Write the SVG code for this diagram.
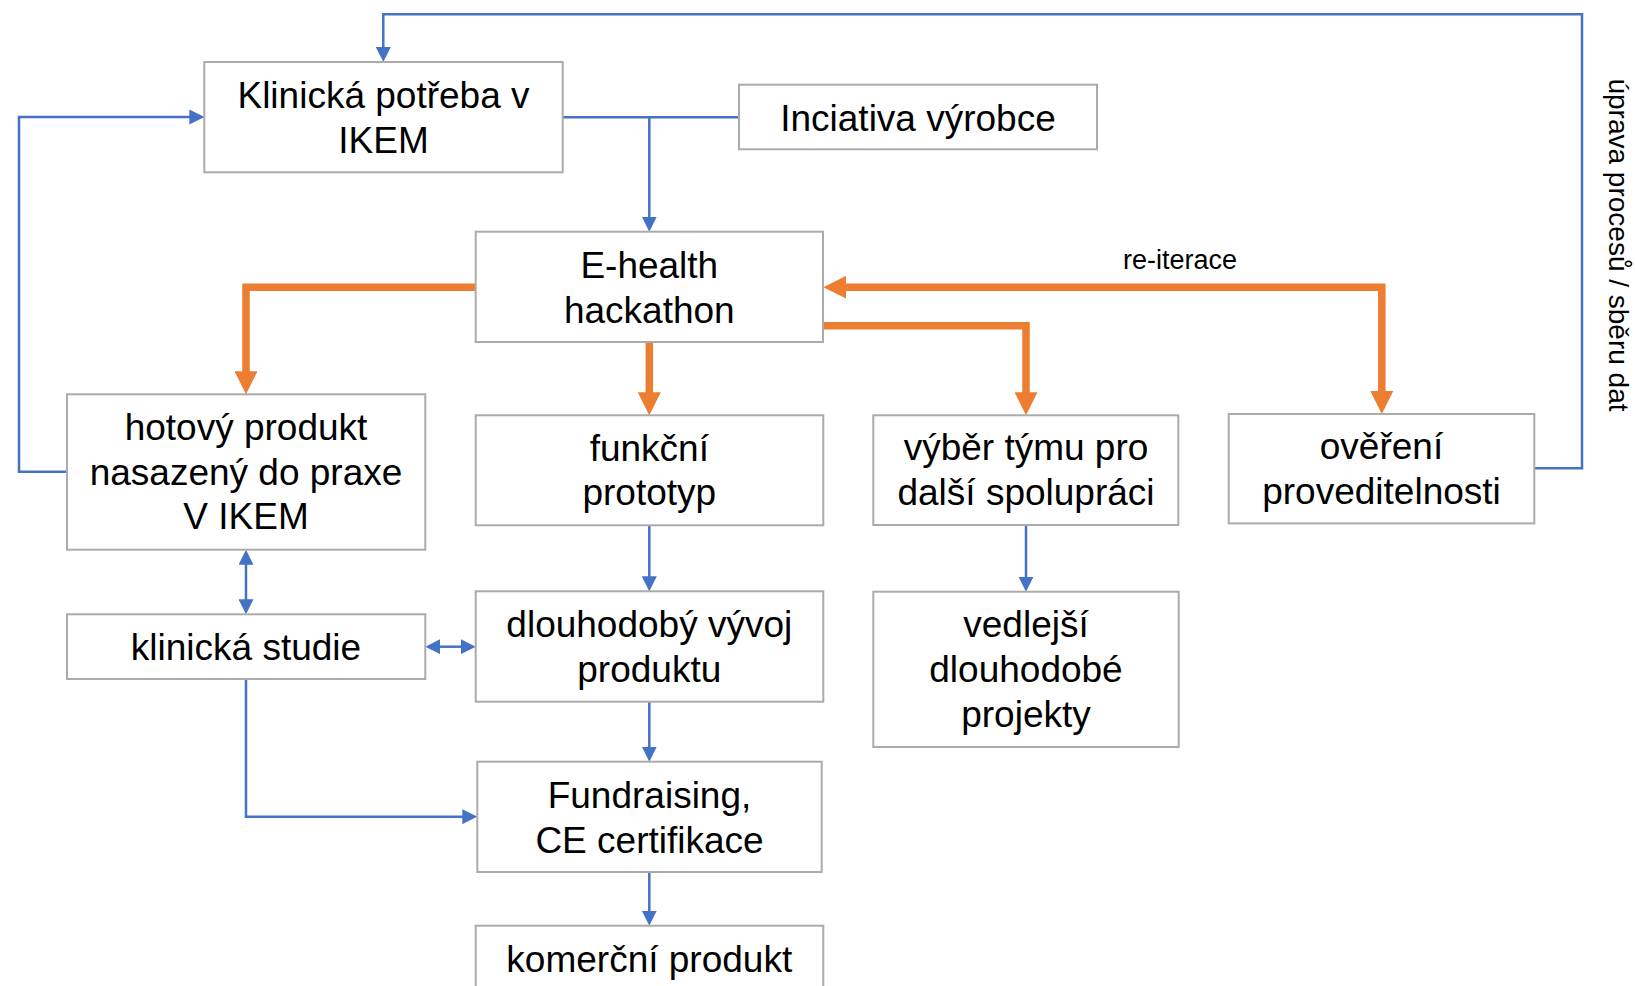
<svg xmlns="http://www.w3.org/2000/svg" width="1635" height="986" viewBox="0 0 1635 986">
<style>
.box{fill:#fff;stroke:#ABABAB;stroke-width:2}
.t{font-family:"Liberation Sans",Arial,sans-serif;font-size:37px;fill:#000;text-anchor:middle}
.lbl{font-family:"Liberation Sans",Arial,sans-serif;fill:#000}
.b{fill:none;stroke:#4472C4;stroke-width:2.5}
.o{fill:none;stroke:#ED7D31;stroke-width:7.5;stroke-linejoin:miter}
</style>
<defs>
<marker id="ab" viewBox="0 0 15 15" refX="2" refY="7.5" markerWidth="15" markerHeight="15" markerUnits="userSpaceOnUse" orient="auto-start-reverse">
<path d="M0,0 L15,7.5 L0,15 z" fill="#4472C4"/>
</marker>
<marker id="ao" viewBox="0 0 23 23" refX="2" refY="11.5" markerWidth="23" markerHeight="23" markerUnits="userSpaceOnUse" orient="auto-start-reverse">
<path d="M0,0 L23,11.5 L0,23 z" fill="#ED7D31"/>
</marker>
</defs>
<rect width="1635" height="986" fill="#fff"/>

<g id="connectors">
<path class="b" d="M1534.3,468.3 H1582 V14.3 H383.3 V49" marker-end="url(#ab)"/>
<path class="b" d="M67,471.7 H19 V117 H191.3" marker-end="url(#ab)"/>
<path class="b" d="M562.7,117.3 H739"/>
<path class="b" d="M649.3,117.3 V218.7" marker-end="url(#ab)"/>
<path class="b" d="M649.3,525.3 V578.3" marker-end="url(#ab)"/>
<path class="b" d="M649.3,701.7 V748.7" marker-end="url(#ab)"/>
<path class="b" d="M649.3,872 V912.7" marker-end="url(#ab)"/>
<path class="b" d="M1026,525 V578.7" marker-end="url(#ab)"/>
<path class="b" d="M246,562.7 V601.3" marker-start="url(#ab)" marker-end="url(#ab)"/>
<path class="b" d="M438.3,646.7 H462.7" marker-start="url(#ab)" marker-end="url(#ab)"/>
<path class="b" d="M246,679 V816.7 H464.3" marker-end="url(#ab)"/>
<path class="o" d="M475.7,287.3 H246 V373.3" marker-end="url(#ao)"/>
<path class="o" d="M649.3,342 V394.3" marker-end="url(#ao)"/>
<path class="o" d="M823,325.7 H1026 V394.3" marker-end="url(#ao)"/>
<path class="o" d="M844.3,287.2 H1381.8 V393" marker-start="url(#ao)" marker-end="url(#ao)"/>
<text class="lbl" x="1180" y="268.5" font-size="27" text-anchor="middle">re-iterace</text>
<text class="lbl" font-size="28" text-anchor="middle" transform="translate(1609,245) rotate(90)">úprava procesů / sběru dat</text>
</g>

<g id="klinicka-potreba">
<rect class="box" x="204.3" y="62" width="358.4" height="110.3"/>
<text class="t" x="383.5" y="108.3">Klinická potřeba v</text>
<text class="t" x="383.5" y="153.3">IKEM</text>
</g>

<g id="iniciativa">
<rect class="box" x="739" y="84.7" width="358" height="64.6"/>
<text class="t" x="918" y="130.7">Inciativa výrobce</text>
</g>

<g id="hackathon">
<rect class="box" x="475.7" y="231.7" width="347.3" height="110.3"/>
<text class="t" x="649.3" y="278.3">E-health</text>
<text class="t" x="649.3" y="323.3">hackathon</text>
</g>

<g id="hotovy-produkt">
<rect class="box" x="67" y="394.3" width="358.3" height="155.4"/>
<text class="t" x="246" y="440">hotový produkt</text>
<text class="t" x="246" y="485">nasazený do praxe</text>
<text class="t" x="246" y="529.3">V IKEM</text>
</g>

<g id="funkcni-prototyp">
<rect class="box" x="475.7" y="415.3" width="347.6" height="110"/>
<text class="t" x="649.3" y="460.7">funkční</text>
<text class="t" x="649.3" y="505">prototyp</text>
</g>

<g id="vyber-tymu">
<rect class="box" x="873.3" y="415.3" width="305" height="109.7"/>
<text class="t" x="1026" y="460">výběr týmu pro</text>
<text class="t" x="1026" y="505">další spolupráci</text>
</g>

<g id="overeni">
<rect class="box" x="1228.7" y="414" width="305.6" height="109.4"/>
<text class="t" x="1381.5" y="459.3">ověření</text>
<text class="t" x="1381.5" y="504">proveditelnosti</text>
</g>

<g id="klinicka-studie">
<rect class="box" x="67" y="614.3" width="358.3" height="64.7"/>
<text class="t" x="246" y="660">klinická studie</text>
</g>

<g id="dlouhodoby-vyvoj">
<rect class="box" x="475.7" y="591.3" width="347.6" height="110.4"/>
<text class="t" x="649.3" y="636.7">dlouhodobý vývoj</text>
<text class="t" x="649.3" y="681.7">produktu</text>
</g>

<g id="vedlejsi-projekty">
<rect class="box" x="873.3" y="591.7" width="305.4" height="155.3"/>
<text class="t" x="1026" y="636.7">vedlejší</text>
<text class="t" x="1026" y="681.7">dlouhodobé</text>
<text class="t" x="1026" y="726.7">projekty</text>
</g>

<g id="fundraising">
<rect class="box" x="477.3" y="761.7" width="344.4" height="110.3"/>
<text class="t" x="649.5" y="807.7">Fundraising,</text>
<text class="t" x="649.5" y="852.7">CE certifikace</text>
</g>

<g id="komercni-produkt">
<rect class="box" x="475.7" y="925.7" width="347.6" height="80"/>
<text class="t" x="649.3" y="971.7">komerční produkt</text>
</g>
</svg>
